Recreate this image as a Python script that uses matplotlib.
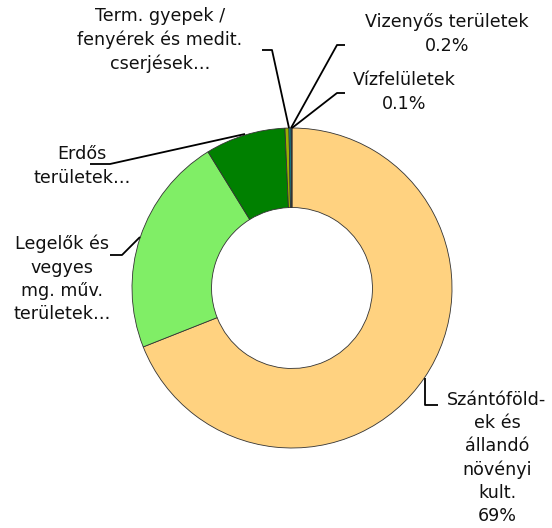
import matplotlib.pyplot as plt

# data
categories = ["Szántóföldek és állandó növényi kult.",
              "Legelők és vegyes mg. műv. területek",
              "Erdős területek",
              "Term. gyepek / fenyérek és medit. cserjések",
              "Vizenyős területek",
              "Vízfelületek"]
values = [69.0, 22.2, 8.1, 0.4, 0.2, 0.1]
label_texts = ["Szántóföld-\nek és\nállandó\nnövényi\nkult.\n69%",
               "Legelők és\nvegyes\nmg. műv.\nterületek…",
               "Erdős\nterületek…",
               "Term. gyepek /\nfenyérek és medit.\ncserjések…",
               "Vizenyős területek\n0.2%",
               "Vízfelületek\n0.1%"]
colors = ["#FFD280", "#80EE66", "#008000", "#9AB000", "#00A8C0", "#0A2A66"]

W, H = 552, 528
fig = plt.figure(figsize=(W / 100, H / 100), dpi=100)
ax = fig.add_axes([0, 0, 1, 1])

def py(y):
    return H - y

cx, cy, R = 292, 288, 160
ax.pie(values, colors=colors, startangle=90, counterclock=False,
       center=(cx, py(cy)), radius=R, frame=True,
       wedgeprops=dict(width=R * 0.497, edgecolor="#333333", linewidth=0.6))
ax.set_xlim(0, W)
ax.set_ylim(0, H)
ax.set_aspect("equal")
ax.axis("off")

# label layout (pixel coords): text position, leader polyline
layout = [
    ((497, 458), [(425, 378), (425, 405), (438, 405)]),
    ((62, 279), [(140, 237), (122, 255), (110, 255)]),
    ((82, 166), [(245, 134), (110, 164), (90, 164)]),
    ((160, 40), [(289, 128), (272, 50), (262, 50)]),
    ((447, 34), [(291, 128), (337, 45), (345, 45)]),
    ((404, 92), [(292, 128), (337, 93), (345, 93)]),
]

for txt, (pos, line) in zip(label_texts, layout):
    ax.text(pos[0], py(pos[1]), txt, ha="center", va="center",
            fontsize=12.6, color="#111111", linespacing=1.37)
    ax.plot([p[0] for p in line], [py(p[1]) for p in line],
            color="black", linewidth=1.3, solid_capstyle="butt")

fig.savefig("out.png", dpi=100)
